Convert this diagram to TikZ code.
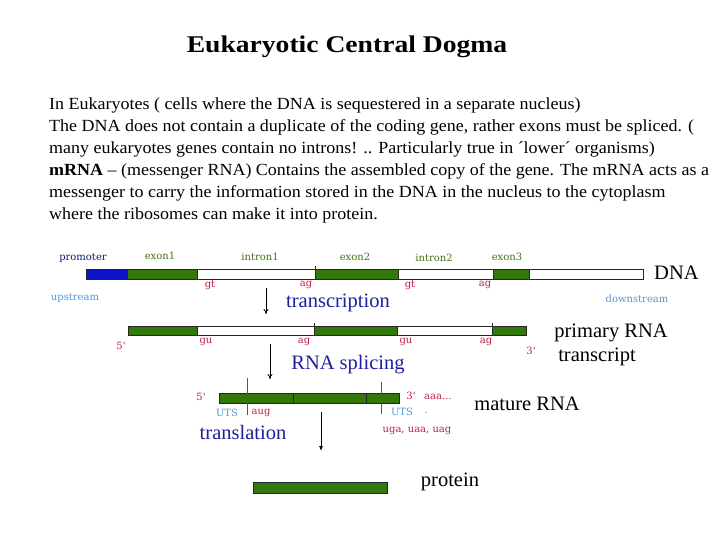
\documentclass[tikz,border=0pt]{standalone}
\usepackage{fontspec}
\usepackage{graphicx}
\usetikzlibrary{arrows.meta}
\setmainfont{Liberation Serif}
\newfontfamily\lblfont{DejaVu Serif}
\definecolor{exgreen}{RGB}{52,120,12}
\definecolor{promblue}{RGB}{12,20,200}
\definecolor{navy}{RGB}{22,22,110}
\definecolor{olive}{RGB}{72,112,24}
\definecolor{crimson}{RGB}{190,30,64}
\definecolor{lblue}{RGB}{84,150,212}
\definecolor{procblue}{RGB}{30,30,160}
\definecolor{markred}{RGB}{210,30,50}
\newcommand{\widen}[1]{\scalebox{1.058}[1]{#1}}
\tikzset{
  exonseg/.style={fill=exgreen,draw=black!85,line width=0.9pt},
  intronseg/.style={fill=white,draw=black!85,line width=0.9pt},
  promseg/.style={fill=promblue,draw=black!85,line width=0.9pt},
  small/.style={font=\lblfont\fontsize{10}{12}\selectfont,inner sep=0pt},
  seglbl/.style={small,text=olive},
  sitelbl/.style={small,text=crimson},
  endlbl/.style={small,text=lblue},
  big/.style={font=\fontsize{20.5}{24}\selectfont,inner sep=0pt},
  proc/.style={big,text=procblue},
  para/.style={font=\fontsize{17}{22}\selectfont,inner sep=0pt,anchor=base west},
  downarrow/.style={-{To[length=5pt,width=5pt]},line width=0.8pt},
  redline/.style={draw=markred,line width=1pt}
}
\begin{document}
\begin{tikzpicture}[x=1pt,y=-1pt]
\useasboundingbox (0,0) rectangle (720,540);
% title
\node[font=\bfseries\fontsize{24}{28}\selectfont,inner sep=0pt,anchor=base] (title) at (347,53) {\scalebox{1.15}[1]{Eukaryotic Central Dogma}};
% paragraph
\node[para] (l1) at (49,110) {\widen{In Eukaryotes ( cells where the DNA is sequestered in a separate nucleus)}};
\node[para] (l2) at (49,132) {\widen{The DNA does not contain a duplicate of the coding gene, rather exons must be spliced. (}};
\node[para] (l3) at (49,154) {\widen{many eukaryotes genes contain no introns! .. Particularly true in ´lower´ organisms)}};
\node[para] (l4) at (49,176) {\widen{\textbf{mRNA} – (messenger RNA) Contains the assembled copy of the gene. The mRNA acts as a}};
\node[para] (l5) at (49,197) {\widen{messenger to carry the information stored in the DNA in the nucleus to the cytoplasm}};
\node[para] (l6) at (49,219) {\widen{where the ribosomes can make it into protein.}};

% ---- DNA bar
\draw[promseg] (86,269) rectangle (127,279);
\draw[exonseg] (127,269) rectangle (197,279);
\draw[intronseg] (197,269) rectangle (315,279);
\draw[exonseg] (315,269) rectangle (398,279);
\draw[intronseg] (398,269) rectangle (493,279);
\draw[exonseg] (493,269) rectangle (529,279);
\draw[intronseg] (529,269) rectangle (643,279);
\draw[line width=0.7pt,black!85] (315,266) -- (315,269);
\node[small,text=navy] (prom) at (83,258) {promoter};
\node[seglbl] (ex1) at (160,256) {exon1};
\node[seglbl] (in1) at (260,257) {intron1};
\node[seglbl] (ex2) at (355,257) {exon2};
\node[seglbl] (in2) at (434,258) {intron2};
\node[seglbl] (ex3) at (507,257) {exon3};
\node[sitelbl] (gt1) at (210,285) {gt};
\node[sitelbl] (ag1) at (306,285) {ag};
\node[sitelbl] (gt2) at (410,285) {gt};
\node[sitelbl] (ag2) at (485,285) {ag};
\node[endlbl] (up) at (75,298) {upstream};
\node[endlbl] (down) at (637,299) {downstream};
\node[big,anchor=west] (dna) at (654,273) {DNA};
\node[proc] (transc) at (338,303) {transcription};
\coordinate (a1s) at (266,288);
\coordinate (a1e) at (266,314);
\draw[downarrow] (a1s) -- (a1e);

% ---- primary RNA
\draw[exonseg] (128,326) rectangle (197,335);
\draw[intronseg] (197,326) rectangle (314,335);
\draw[exonseg] (314,326) rectangle (397,335);
\draw[intronseg] (397,326) rectangle (492,335);
\draw[exonseg] (492,326) rectangle (526,335);
\draw[line width=0.7pt,black!85] (314,323) -- (314,326) (492,323) -- (492,326);
\node[sitelbl] (p5) at (121,346) {5'};
\node[sitelbl] (gu1) at (206,342) {gu};
\node[sitelbl] (ag3) at (304,342) {ag};
\node[sitelbl] (gu2) at (406,342) {gu};
\node[sitelbl] (ag4) at (486,342) {ag};
\node[sitelbl] (p3) at (531,351) {3'};
\node[big] (prim) at (611,333) {primary RNA};
\node[big] (trs) at (597,357) {transcript};
\node[proc] (splice) at (348,365) {RNA splicing};
\coordinate (a2s) at (270,344);
\coordinate (a2e) at (270,379);
\draw[downarrow] (a2s) -- (a2e);

% ---- mature RNA
\draw[exonseg] (219,393) rectangle (399,403);
\draw[line width=0.9pt,black!85] (293,393) -- (293,403) (366,393) -- (366,403);
\draw[redline] (247,378) -- (247,415);
\draw[redline] (381,382) -- (381,414);
\node[sitelbl] (m5) at (201,397) {5'};
\node[sitelbl] (m3) at (411,396) {3'};
\node[sitelbl,anchor=west] (aaa) at (424,397) {aaa...};
\node[endlbl] (uts1) at (227,413) {UTS};
\node[sitelbl] (aug) at (261,413) {aug};
\node[endlbl] (uts2) at (402,412) {UTS};
\node[small,text=lblue] (dot) at (426,413) {.};
\node[sitelbl] (stop) at (417,431) {uga, uaa, uag};
\node[proc] (transl) at (243,432) {translation};
\node[big] (mat) at (527,404) {mature RNA};
\coordinate (a3s) at (321,412);
\coordinate (a3e) at (321,451);
\draw[-{Latex[length=5pt,width=4pt]},line width=0.8pt] (a3s) -- (a3e);

% ---- protein
\draw[exonseg] (253,482) rectangle (387,493);
\node[big] (prot) at (450,482) {protein};
\end{tikzpicture}
\end{document}
